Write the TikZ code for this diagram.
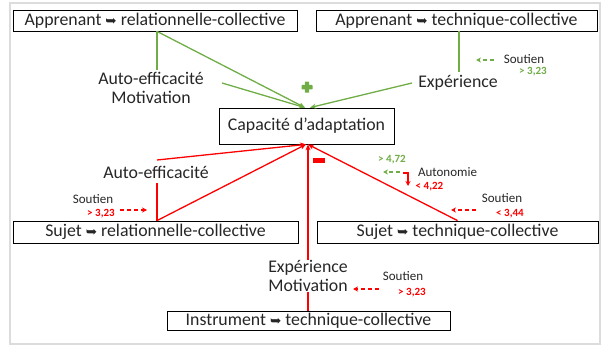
\documentclass[tikz,border=0pt]{standalone}
\usepackage{fontspec}
\setmainfont{Carlito}
\newfontfamily\dvfont{DejaVu Sans}
\usetikzlibrary{arrows.meta,calc}
\definecolor{gr}{HTML}{70AD47}
\definecolor{rd}{HTML}{FF0000}
\definecolor{tx}{HTML}{262626}
\definecolor{fr}{HTML}{DCDCDC}
\newcommand\harr{{\dvfont\fontsize{13.5}{13.5}\selectfont\char"27A5}}
\tikzset{
  box/.style={draw=black, line width=0.8pt, inner sep=0pt, text=tx,
    font=\fontsize{17.8}{20}\selectfont},
  lab/.style={inner sep=0pt, text=tx, align=center, font=\fontsize{17.8}{19}\selectfont},
  sm/.style={inner sep=0pt, text=tx, font=\fontsize{13}{13}\selectfont},
  num/.style={inner sep=0pt, font=\bfseries\fontsize{11}{11}\selectfont},
  gl/.style={gr, line width=1.3pt},
  rl/.style={rd, line width=1.3pt},
  tip/.style={-{Stealth[length=6pt,width=5pt]}},
  dsh/.style={line width=1.3pt, dash pattern=on 4pt off 3pt, -{Stealth[length=5pt,width=5pt]}}
}
\begin{document}
\begin{tikzpicture}[x=1pt,y=-1pt]
\useasboundingbox (0,0) rectangle (601,347);
\draw[fr, line width=2pt] (10,3) -- (600,3) -- (600,344) -- (10,344) -- cycle;

% boxes
\node[box, minimum width=284pt, minimum height=21pt] (ar) at (155,20.5) {Apprenant \harr\ relationnelle-collective};
\node[box, minimum width=281pt, minimum height=21pt] (at) at (456.5,20.5) {Apprenant \harr\ technique-collective};
\node[box, minimum width=175pt, minimum height=36pt] (cap) at (306.5,126) {Capacité d’adaptation};
\node[box, minimum width=285pt, minimum height=22pt] (sr) at (155.5,232) {Sujet \harr\ relationnelle-collective};
\node[box, minimum width=281pt, minimum height=22pt] (st) at (457.5,232) {Sujet \harr\ technique-collective};
\node[box, minimum width=283pt, minimum height=19pt] (ins) at (308.5,320.5) {Instrument \harr\ technique-collective};

% labels
\node[lab] (l1) at (151,87.5) {Auto-efficacité\\Motivation};
\node[lab] (l2) at (458,83) {Expérience};
\node[lab] (l3) at (156,172) {Auto-efficacité};
\node[lab] (l4) at (308,276) {Expérience\\Motivation};

% coordinates
\coordinate (g1) at ($(cap.north)+(-1.5,0)$);
\coordinate (g2) at ($(cap.north)+(3.5,0)$);
\coordinate (r1) at ($(cap.south)+(-0.5,0)$);
\coordinate (r2) at ($(cap.south)+(1.5,0)$);

% green connectors
\draw[gl] (ar.south -| 157,0) -- (157,70);
\draw[gl,tip] (ar.south -| 157,0) -- (g1);
\draw[gl,tip] (222,83) -- (g1);
\draw[gl] (at.south -| 459,0) -- (459,72);
\draw[gl,tip] (412,83) -- (g2);

% red connectors
\draw[rl,tip] (157,160) -- (r1);
\draw[rl] (157,183) -- (sr.north -| 157,0);
\draw[rl,tip] (sr.north -| 157,0) -- (r1);
\draw[rl,tip] (st.north) -- (r2);
\draw[rl,tip] (l4.north -| r2) -- (r2);
\draw[rl] (l4.south -| r2) -- (ins.north -| r2);

% plus / minus
\fill[gr, rounded corners=0.6pt] (301.5,85) rectangle (312.5,89.5);
\fill[gr, rounded corners=0.6pt] (304.8,81.7) rectangle (309.2,92.7);
\fill[rd] (313,158) rectangle (325,163);

% Soutien top right
\node[sm] (s1) at (524,59.5) {Soutien};
\node[num, text=gr] (n1) at (533,72) {> 3,23};
\draw[gr, dsh] (494,60) -- (476,60);

% Soutien sujet relationnelle
\node[sm] (s2) at (93,199.5) {Soutien};
\node[num, text=rd] (n2) at (101,214) {> 3,23};
\draw[rd, dsh] (120,210) -- (147,210);

% Autonomie
\node[sm] (s3) at (447.5,172.5) {Autonomie};
\node[num, text=gr] (n3) at (392,160) {> 4,72};
\node[num, text=rd] (n4) at (429.5,187) {< 4,22};
\draw[gr, dsh] (400,172) -- (383,172);
\draw[rd, line width=1.3pt, -{Stealth[length=5pt,width=5pt]}] (403,173) -- (408,173) -- (408,186);

% Soutien sujet technique
\node[sm] (s4) at (502,198.5) {Soutien};
\node[num, text=rd] (n5) at (510,213.5) {< 3,44};
\draw[rd, dsh] (476,210) -- (451,210);

% Soutien instrument
\node[sm] (s5) at (403,276.5) {Soutien};
\node[num, text=rd] (n6) at (412,292.5) {> 3,23};
\draw[rd, dsh] (379,289) -- (353,289);
\end{tikzpicture}
\end{document}
